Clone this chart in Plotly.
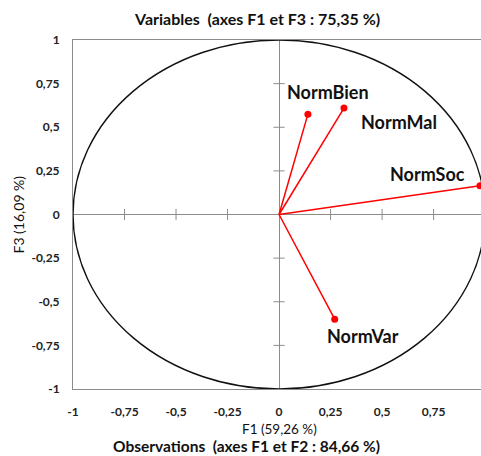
import plotly.graph_objects as go

# Data
variables = ["NormBien", "NormMal", "NormSoc", "NormVar"]
f1_values = [0.14, 0.315, 0.975, 0.27]
f3_values = [0.575, 0.61, 0.165, -0.60]
tick_values = [-1, -0.75, -0.5, -0.25, 0, 0.25, 0.5, 0.75, 1]
tick_labels = ["-1", "-0,75", "-0,5", "-0,25", "0", "0,25", "0,5", "0,75", "1"]
title_text = "Variables  (axes F1 et F3 : 75,35 %)"
bottom_text = "Observations  (axes F1 et F2 : 84,66 %)"
x_title = "F1 (59,26 %)"
y_title = "F3 (16,09 %)"

FONT = "Lato"
RED = "#ff0000"
GRAY = "#8c8c8c"

fig = go.Figure()

# tick marks drawn on the zero lines
inner_ticks = [t for t in tick_values if t not in (-1, 0, 1)]
fig.add_trace(go.Scatter(x=inner_ticks, y=[0] * len(inner_ticks), mode="markers",
                         marker=dict(symbol="line-ns", size=8, line=dict(color=GRAY, width=1)),
                         hoverinfo="skip", showlegend=False))
fig.add_trace(go.Scatter(x=[0] * len(inner_ticks), y=inner_ticks, mode="markers",
                         marker=dict(symbol="line-ew", size=8, line=dict(color=GRAY, width=1)),
                         hoverinfo="skip", showlegend=False))

# vectors
for xv, yv in zip(f1_values, f3_values):
    fig.add_trace(go.Scatter(x=[0, xv], y=[0, yv], mode="lines",
                             line=dict(color=RED, width=1.5), showlegend=False,
                             hoverinfo="skip", cliponaxis=False))
fig.add_trace(go.Scatter(x=f1_values, y=f3_values, mode="markers",
                         marker=dict(color=RED, size=7), showlegend=False,
                         cliponaxis=False, text=variables))

# labels
shifts = {"NormBien": (20, 22), "NormMal": (55, -14), "NormSoc": (-52, 12), "NormVar": (28, -17)}
for name, xv, yv in zip(variables, f1_values, f3_values):
    dx, dy = shifts[name]
    fig.add_annotation(x=xv, y=yv, text=name, showarrow=False, xshift=dx, yshift=dy,
                       xanchor="center", yanchor="middle",
                       font=dict(family=FONT, size=18, color="#111111", weight="bold"))

# correlation circle
fig.add_shape(type="circle", xref="x", yref="y", x0=-1, y0=-1, x1=1, y1=1,
              line=dict(color="#111111", width=1.4), layer="above")

axis_common = dict(
    tickvals=tick_values, ticktext=tick_labels,
    showgrid=False, zeroline=True, zerolinecolor=GRAY, zerolinewidth=1,
    showline=True, linecolor=GRAY, linewidth=1, mirror=True,
    ticks="outside", ticklen=10, tickcolor="rgba(0,0,0,0)",
    tickfont=dict(family=FONT, size=12, color="#222222", weight="bold"),
)

fig.update_layout(
    width=481, height=456,
    margin=dict(l=73, r=0, t=40, b=67),
    paper_bgcolor="white", plot_bgcolor="white",
    xaxis=dict(range=[-1, 0.98], **axis_common),
    yaxis=dict(range=[-1, 1], **axis_common),
    showlegend=False,
)
fig.update_xaxes(ticklen=12)

fig.add_annotation(xref="paper", yref="paper", x=0.45, y=1, yshift=22, text=title_text,
                   xanchor="center", yanchor="middle", showarrow=False,
                   font=dict(family=FONT, size=16, color="#111111", weight="bold"))
fig.add_annotation(xref="x", yref="paper", x=0, y=0, yshift=-40, text=x_title,
                   xanchor="center", yanchor="middle", showarrow=False,
                   font=dict(family=FONT, size=13.5, color="#111111"))
fig.add_annotation(xref="x", yref="paper", x=0, y=0, yshift=-57, xshift=-33, text=bottom_text,
                   xanchor="center", yanchor="middle", showarrow=False,
                   font=dict(family=FONT, size=15.5, color="#111111", weight="bold"))
fig.add_annotation(xref="paper", yref="y", x=0, y=0, xshift=-55, text=y_title, textangle=-90,
                   xanchor="center", yanchor="middle", showarrow=False,
                   font=dict(family=FONT, size=14, color="#111111"))

fig.write_html("out.html", config={"displayModeBar": False},
               post_script="document.body.style.margin='0';")
